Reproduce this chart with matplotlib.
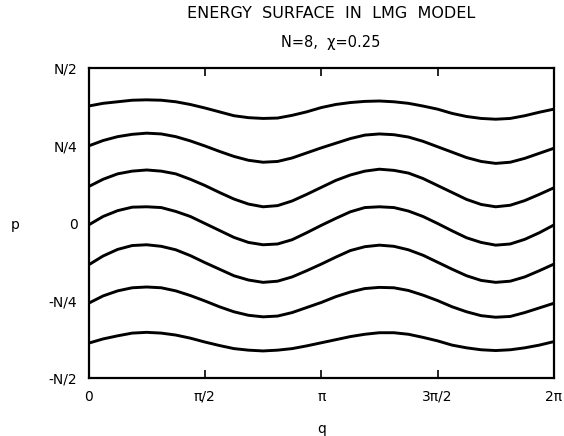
import matplotlib
matplotlib.use("Agg")
import matplotlib.pyplot as plt
import numpy as np

# sample grid in q (steps of pi/16 from 0 to 2pi)
q = np.linspace(0, 2 * np.pi, 33)

# p values (N = 8, so N/2 = 4)
curve1 = [3.03, 3.10, 3.14, 3.18, 3.19, 3.18, 3.14, 3.07, 2.98, 2.88, 2.78, 2.73, 2.71, 2.72, 2.79, 2.88, 2.99,
          3.07, 3.12, 3.15, 3.16, 3.14, 3.10, 3.03, 2.95, 2.84, 2.76, 2.71, 2.69, 2.71, 2.78, 2.87, 2.95]
curve2 = [2.00, 2.14, 2.24, 2.30, 2.33, 2.31, 2.24, 2.13, 2.00, 1.86, 1.73, 1.63, 1.58, 1.60, 1.69, 1.82, 1.95,
          2.07, 2.19, 2.28, 2.31, 2.29, 2.23, 2.12, 1.98, 1.84, 1.70, 1.60, 1.55, 1.58, 1.68, 1.81, 1.94]
curve3 = [0.95, 1.14, 1.28, 1.35, 1.38, 1.35, 1.28, 1.14, 0.98, 0.80, 0.63, 0.50, 0.43, 0.46, 0.58, 0.75, 0.93,
          1.11, 1.25, 1.35, 1.40, 1.37, 1.30, 1.16, 0.98, 0.80, 0.62, 0.49, 0.43, 0.47, 0.59, 0.75, 0.92]
curve4 = [-0.04, 0.18, 0.33, 0.42, 0.43, 0.41, 0.31, 0.18, 0.00, -0.18, -0.36, -0.49, -0.55, -0.53, -0.42, -0.24, -0.05,
          0.13, 0.30, 0.41, 0.43, 0.41, 0.32, 0.18, 0.00, -0.19, -0.37, -0.49, -0.56, -0.53, -0.41, -0.24, -0.04]
curve5 = [-1.07, -0.84, -0.67, -0.57, -0.55, -0.59, -0.68, -0.83, -1.01, -1.18, -1.35, -1.46, -1.52, -1.49, -1.38, -1.22, -1.05,
          -0.87, -0.70, -0.60, -0.56, -0.59, -0.68, -0.82, -1.00, -1.18, -1.35, -1.47, -1.52, -1.49, -1.38, -1.22, -1.05]
curve6 = [-2.06, -1.87, -1.74, -1.66, -1.64, -1.66, -1.74, -1.86, -2.00, -2.15, -2.28, -2.37, -2.41, -2.39, -2.30, -2.17, -2.04,
          -1.89, -1.77, -1.68, -1.65, -1.66, -1.73, -1.85, -1.99, -2.15, -2.28, -2.38, -2.42, -2.40, -2.30, -2.18, -2.06]
curve7 = [-3.09, -2.98, -2.90, -2.83, -2.81, -2.83, -2.88, -2.96, -3.06, -3.15, -3.23, -3.27, -3.29, -3.27, -3.23, -3.16, -3.08,
          -3.00, -2.92, -2.86, -2.82, -2.82, -2.86, -2.94, -3.03, -3.14, -3.21, -3.26, -3.28, -3.26, -3.21, -3.14, -3.05]
curves = [curve1, curve2, curve3, curve4, curve5, curve6, curve7]

xtick_pos = [0, np.pi / 2, np.pi, 3 * np.pi / 2, 2 * np.pi]
xtick_labels = ["0", "π/2", "π", "3π/2", "2π"]
ytick_pos = [-4, -2, 0, 2, 4]
ytick_labels = ["-N/2", "-N/4", "0", "N/4", "N/2"]

fig = plt.figure(figsize=(5.64, 4.36), dpi=100)
ax = fig.add_axes([0.157, 0.132, 0.825, 0.711])

for c in curves:
    ax.plot(q, c, color="black", lw=2.1, solid_capstyle="butt", solid_joinstyle="round")

ax.set_xlim(0, 2 * np.pi)
ax.set_ylim(-4, 4)
ax.set_xticks(xtick_pos)
ax.set_xticklabels(xtick_labels, fontsize=10)
ax.set_yticks(ytick_pos)
ax.set_yticklabels(ytick_labels, fontsize=10)
ax.tick_params(axis="x", direction="in", length=6, width=1.2, top=True, pad=8)
ax.tick_params(axis="y", length=0, pad=8)
for s in ax.spines.values():
    s.set_linewidth(1.6)

fig.text(331 / 564, 1 - 14 / 436, "ENERGY  SURFACE  IN  LMG  MODEL", ha="center", va="center", fontsize=11.5)
fig.text(331 / 564, 1 - 42 / 436, "N=8,  χ=0.25", ha="center", va="center", fontsize=10.5)
fig.text(15 / 564, 1 - 225 / 436, "p", ha="center", va="center", fontsize=10)
fig.text(322 / 564, 1 - 429 / 436, "q", ha="center", va="center", fontsize=10)

fig.savefig("out.png", dpi=100)
